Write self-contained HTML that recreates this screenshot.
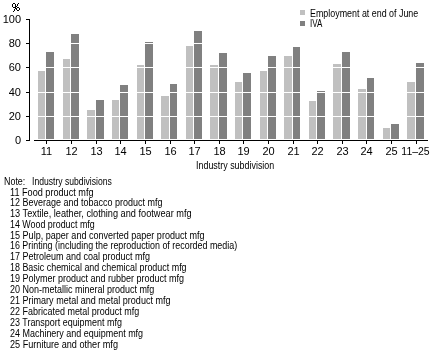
<!DOCTYPE html>
<html><head><meta charset="utf-8"><style>
html,body{margin:0;padding:0;background:#fff;}
body{filter:grayscale(1);width:435px;height:359px;position:relative;overflow:hidden;font-family:"Liberation Sans", sans-serif;color:#000;}
div,span{position:absolute;}
span{white-space:nowrap;line-height:1;}
.t{font-size:10px;transform:scaleX(0.89);transform-origin:0 0;}
.xl{text-align:center;font-size:11px;}
.yl{text-align:right;font-size:11px;}
</style></head><body>
<div style="left:38px;top:71px;width:7px;height:68px;background:#c0c0c0"></div>
<div style="left:46px;top:52px;width:8px;height:87px;background:#808080"></div>
<div style="left:46px;top:141px;width:1px;height:3px;background:#000"></div>
<span class="xl" style="left:16px;top:146px;width:61px;">11</span>
<div style="left:63px;top:59px;width:7px;height:80px;background:#c0c0c0"></div>
<div style="left:71px;top:34px;width:8px;height:105px;background:#808080"></div>
<div style="left:71px;top:141px;width:1px;height:3px;background:#000"></div>
<span class="xl" style="left:41px;top:146px;width:61px;">12</span>
<div style="left:87px;top:110px;width:8px;height:29px;background:#c0c0c0"></div>
<div style="left:96px;top:100px;width:8px;height:39px;background:#808080"></div>
<div style="left:96px;top:141px;width:1px;height:3px;background:#000"></div>
<span class="xl" style="left:66px;top:146px;width:61px;">13</span>
<div style="left:112px;top:100px;width:7px;height:39px;background:#c0c0c0"></div>
<div style="left:120px;top:85px;width:8px;height:54px;background:#808080"></div>
<div style="left:120px;top:141px;width:1px;height:3px;background:#000"></div>
<span class="xl" style="left:90px;top:146px;width:61px;">14</span>
<div style="left:137px;top:65px;width:7px;height:74px;background:#c0c0c0"></div>
<div style="left:145px;top:42px;width:8px;height:97px;background:#808080"></div>
<div style="left:145px;top:141px;width:1px;height:3px;background:#000"></div>
<span class="xl" style="left:115px;top:146px;width:61px;">15</span>
<div style="left:161px;top:96px;width:8px;height:43px;background:#c0c0c0"></div>
<div style="left:170px;top:84px;width:7px;height:55px;background:#808080"></div>
<div style="left:170px;top:141px;width:1px;height:3px;background:#000"></div>
<span class="xl" style="left:140px;top:146px;width:61px;">16</span>
<div style="left:186px;top:46px;width:7px;height:93px;background:#c0c0c0"></div>
<div style="left:194px;top:31px;width:8px;height:108px;background:#808080"></div>
<div style="left:194px;top:141px;width:1px;height:3px;background:#000"></div>
<span class="xl" style="left:164px;top:146px;width:61px;">17</span>
<div style="left:210px;top:65px;width:8px;height:74px;background:#c0c0c0"></div>
<div style="left:219px;top:53px;width:8px;height:86px;background:#808080"></div>
<div style="left:219px;top:141px;width:1px;height:3px;background:#000"></div>
<span class="xl" style="left:189px;top:146px;width:61px;">18</span>
<div style="left:235px;top:82px;width:7px;height:57px;background:#c0c0c0"></div>
<div style="left:243px;top:73px;width:8px;height:66px;background:#808080"></div>
<div style="left:243px;top:141px;width:1px;height:3px;background:#000"></div>
<span class="xl" style="left:213px;top:146px;width:61px;">19</span>
<div style="left:260px;top:71px;width:7px;height:68px;background:#c0c0c0"></div>
<div style="left:268px;top:56px;width:8px;height:83px;background:#808080"></div>
<div style="left:268px;top:141px;width:1px;height:3px;background:#000"></div>
<span class="xl" style="left:238px;top:146px;width:61px;">20</span>
<div style="left:284px;top:56px;width:8px;height:83px;background:#c0c0c0"></div>
<div style="left:293px;top:47px;width:7px;height:92px;background:#808080"></div>
<div style="left:293px;top:141px;width:1px;height:3px;background:#000"></div>
<span class="xl" style="left:263px;top:146px;width:61px;">21</span>
<div style="left:309px;top:101px;width:7px;height:38px;background:#c0c0c0"></div>
<div style="left:317px;top:91px;width:8px;height:48px;background:#808080"></div>
<div style="left:317px;top:141px;width:1px;height:3px;background:#000"></div>
<span class="xl" style="left:287px;top:146px;width:61px;">22</span>
<div style="left:333px;top:64px;width:8px;height:75px;background:#c0c0c0"></div>
<div style="left:342px;top:52px;width:8px;height:87px;background:#808080"></div>
<div style="left:342px;top:141px;width:1px;height:3px;background:#000"></div>
<span class="xl" style="left:312px;top:146px;width:61px;">23</span>
<div style="left:358px;top:89px;width:8px;height:50px;background:#c0c0c0"></div>
<div style="left:367px;top:78px;width:7px;height:61px;background:#808080"></div>
<div style="left:366px;top:141px;width:1px;height:3px;background:#000"></div>
<span class="xl" style="left:336px;top:146px;width:61px;">24</span>
<div style="left:383px;top:128px;width:7px;height:11px;background:#c0c0c0"></div>
<div style="left:391px;top:124px;width:8px;height:15px;background:#808080"></div>
<div style="left:391px;top:141px;width:1px;height:3px;background:#000"></div>
<span class="xl" style="left:361px;top:146px;width:61px;">25</span>
<div style="left:407px;top:82px;width:8px;height:57px;background:#c0c0c0"></div>
<div style="left:416px;top:63px;width:8px;height:76px;background:#808080"></div>
<div style="left:416px;top:141px;width:1px;height:3px;background:#000"></div>
<span class="xl" style="left:385px;top:146px;width:61px;transform:scaleX(0.95)">11–25</span>
<div style="left:34px;top:43px;width:394px;height:1px;background:#fff"></div>
<div style="left:34px;top:67px;width:394px;height:1px;background:#fff"></div>
<div style="left:34px;top:92px;width:394px;height:1px;background:#fff"></div>
<div style="left:34px;top:116px;width:394px;height:1px;background:#fff"></div>
<div style="left:29px;top:19px;width:1px;height:122px;background:#000"></div>
<div style="left:26px;top:19px;width:3px;height:1px;background:#000"></div>
<span class="yl" style="left:0px;top:14px;width:21px;">100</span>
<div style="left:26px;top:43px;width:3px;height:1px;background:#000"></div>
<span class="yl" style="left:0px;top:38px;width:21px;">80</span>
<div style="left:26px;top:67px;width:3px;height:1px;background:#000"></div>
<span class="yl" style="left:0px;top:62px;width:21px;">60</span>
<div style="left:26px;top:92px;width:3px;height:1px;background:#000"></div>
<span class="yl" style="left:0px;top:87px;width:21px;">40</span>
<div style="left:26px;top:116px;width:3px;height:1px;background:#000"></div>
<span class="yl" style="left:0px;top:111px;width:21px;">20</span>
<div style="left:26px;top:140px;width:3px;height:1px;background:#000"></div>
<span class="yl" style="left:0px;top:135px;width:21px;">0</span>
<div style="left:34px;top:140px;width:394px;height:1px;background:#000"></div>
<svg style="position:absolute;left:0;top:0" width="24" height="14" shape-rendering="crispEdges"><rect x="13" y="3" width="1" height="1" fill="#000"/><rect x="14" y="3" width="1" height="1" fill="#000"/><rect x="12" y="4" width="1" height="1" fill="#000"/><rect x="12" y="5" width="1" height="1" fill="#000"/><rect x="12" y="6" width="1" height="1" fill="#000"/><rect x="15" y="4" width="1" height="1" fill="#000"/><rect x="15" y="5" width="1" height="1" fill="#000"/><rect x="15" y="6" width="1" height="1" fill="#000"/><rect x="13" y="7" width="1" height="1" fill="#000"/><rect x="14" y="7" width="1" height="1" fill="#000"/><rect x="18" y="3" width="1" height="1" fill="#000"/><rect x="17" y="4" width="1" height="1" fill="#000"/><rect x="17" y="5" width="1" height="1" fill="#000"/><rect x="16" y="6" width="1" height="1" fill="#000"/><rect x="15" y="7" width="1" height="1" fill="#000"/><rect x="15" y="8" width="1" height="1" fill="#000"/><rect x="14" y="9" width="1" height="1" fill="#000"/><rect x="14" y="10" width="1" height="1" fill="#000"/><rect x="13" y="11" width="1" height="1" fill="#000"/><rect x="17" y="7" width="1" height="1" fill="#000"/><rect x="18" y="7" width="1" height="1" fill="#000"/><rect x="16" y="8" width="1" height="1" fill="#000"/><rect x="16" y="9" width="1" height="1" fill="#000"/><rect x="19" y="8" width="1" height="1" fill="#000"/><rect x="19" y="9" width="1" height="1" fill="#000"/><rect x="17" y="10" width="1" height="1" fill="#000"/><rect x="18" y="10" width="1" height="1" fill="#000"/></svg>
<span class="t" style="left:196px;top:161px;transform:scaleX(0.891);">Industry subdivision</span>
<div style="left:300px;top:10px;width:5px;height:5px;background:#c0c0c0"></div>
<div style="left:300px;top:21px;width:5px;height:5px;background:#808080"></div>
<span class="t" style="left:310px;top:9px;transform:scaleX(0.889);">Employment at end of June</span>
<span class="t" style="left:310px;top:19px;transform:scaleX(0.8);">IVA</span>
<span class="t" style="left:4px;top:177px;transform:scaleX(0.89);">Note:</span>
<span class="t" style="left:32px;top:177px;transform:scaleX(0.86);">Industry subdivisions</span>
<span class="t" style="left:10px;top:188px;transform:scaleX(0.9121);">11 Food product mfg</span>
<span class="t" style="left:10px;top:198px;transform:scaleX(0.8988);">12 Beverage and tobacco product mfg</span>
<span class="t" style="left:10px;top:209px;transform:scaleX(0.9183);">13 Textile, leather, clothing and footwear mfg</span>
<span class="t" style="left:10px;top:220px;transform:scaleX(0.8874);">14 Wood product mfg</span>
<span class="t" style="left:10px;top:231px;transform:scaleX(0.9047);">15 Pulp, paper and converted paper product mfg</span>
<span class="t" style="left:10px;top:241px;transform:scaleX(0.8902);">16 Printing (including the reproduction of recorded media)</span>
<span class="t" style="left:10px;top:252px;transform:scaleX(0.9);">17 Petroleum and coal product mfg</span>
<span class="t" style="left:10px;top:263px;transform:scaleX(0.8924);">18 Basic chemical and chemical product mfg</span>
<span class="t" style="left:10px;top:274px;transform:scaleX(0.8995);">19 Polymer product and rubber product mfg</span>
<span class="t" style="left:10px;top:285px;transform:scaleX(0.8988);">20 Non-metallic mineral product mfg</span>
<span class="t" style="left:10px;top:296px;transform:scaleX(0.9023);">21 Primary metal and metal product mfg</span>
<span class="t" style="left:10px;top:307px;transform:scaleX(0.8979);">22 Fabricated metal product mfg</span>
<span class="t" style="left:10px;top:318px;transform:scaleX(0.8944);">23 Transport equipment mfg</span>
<span class="t" style="left:10px;top:329px;transform:scaleX(0.8966);">24 Machinery and equipment mfg</span>
<span class="t" style="left:10px;top:340px;transform:scaleX(0.9119);">25 Furniture and other mfg</span>
</body></html>
